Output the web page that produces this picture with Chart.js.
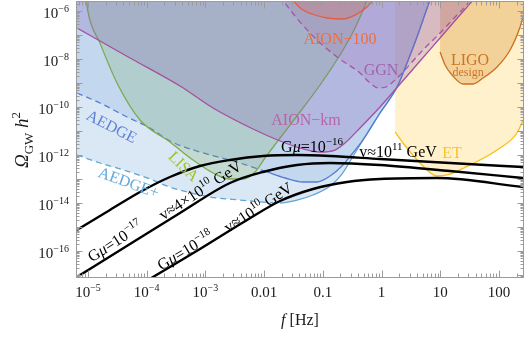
<!DOCTYPE html>
<html><head><meta charset="utf-8">
<script src="https://cdn.jsdelivr.net/npm/chart.js@4"></script>
<style>html,body{margin:0;padding:0;background:#fff}</style>
</head><body>
<canvas id="c" width="526" height="339" style="width:526px;height:339px;display:block"></canvas>
<script>
// ---------------- data (frequency in Hz, Omega_GW h^2) ----------------
const gmu16F = [6.5e-6, 2.37e-5, 7.69e-5, 2.49e-4, 8.09e-4, 2.62e-3, 9.57e-3, 0.0363, 0.133, 0.942, 14.7, 257];
const gmu16Omega = [7.5e-16, 5.11e-15, 2.87e-14, 1.21e-13, 3.48e-13, 6.19e-13, 9.09e-13, 1.0e-12, 9.09e-13, 6.81e-13, 4.64e-13, 3.16e-13];

const gmu17F = [6.5e-6, 5.2e-5, 3.69e-4, 2.62e-3, 9.57e-3, 0.0363, 0.133, 0.942, 14.7, 257];
const gmu17Omega = [8.25e-18, 1.96e-16, 3.83e-15, 6.81e-14, 1.96e-13, 3.83e-13, 4.64e-13, 3.83e-13, 2.15e-13, 1.10e-13];

const gmu18F = [7.69e-5, 1.28e-4, 8.09e-4, 5.12e-3, 0.0187, 0.0681, 0.258, 0.942, 8.81, 257];
const gmu18Omega = [3.83e-18, 8.25e-18, 1.21e-16, 1.96e-15, 1.21e-14, 3.83e-14, 7.5e-14, 1.0e-13, 1.10e-13, 4.64e-14];

const lisaF = [9.2e-6, 1.0e-5, 1.60e-5, 3.12e-5, 7.69e-5, 2.49e-4, 6.15e-4, 1.35e-3, 2.62e-3, 4.37e-3, 7.0e-3, 0.01035, 0.0187, 0.0409, 0.0895, 0.196, 0.354, 0.524, 0.59];
const lisaOmega = [4.64e-6, 9.09e-7, 4.64e-8, 1.0e-9, 2.87e-11, 3.48e-12, 6.19e-13, 1.78e-13, 1.0e-13, 1.0e-13, 1.96e-13, 7.5e-13, 5.11e-12, 6.19e-11, 8.25e-10, 1.47e-8, 1.96e-7, 1.78e-6, 3.83e-6];

const aionKmF = [6.5e-6, 5.2e-5, 3.69e-4, 1.35e-3, 6.47e-3, 0.0187, 0.046, 0.0895, 0.161, 0.239, 0.430, 0.942, 2.07, 4.53, 9.93, 21.7, 36.2, 40.7];
const aionKmOmega = [1.96e-7, 1.10e-8, 7.5e-10, 9.09e-11, 1.21e-11, 3.83e-12, 1.78e-12, 1.33e-12, 1.61e-12, 3.16e-12, 1.33e-11, 1.0e-10, 9.09e-10, 8.25e-9, 7.5e-8, 6.81e-7, 2.87e-6, 4.22e-6];

const aion100F = [0.0227, 0.0299, 0.046, 0.0736, 0.118, 0.221, 0.383, 0.566, 0.716, 0.805];
const aion100Omega = [4.64e-6, 2.87e-6, 1.10e-6, 6.81e-7, 5.11e-7, 4.64e-7, 7.5e-7, 1.47e-6, 2.87e-6, 4.64e-6];

const ggnF = [0.0187, 0.021, 0.0605, 0.175, 0.430, 0.637, 0.871, 1.19, 1.70, 2.32, 5.09, 9.93, 17.9, 29.8, 33.5];
const ggnOmega = [4.64e-6, 2.87e-6, 1.21e-7, 1.21e-8, 2.61e-9, 1.0e-9, 6.19e-10, 6.81e-10, 1.33e-9, 2.87e-9, 2.37e-8, 1.21e-7, 5.62e-7, 2.15e-6, 3.48e-6];

const aedgeF = [6.5e-6, 1.60e-5, 4.62e-5, 1.14e-4, 2.49e-4, 8.09e-4, 3.88e-3, 0.0112, 0.0227, 0.046, 0.0796, 0.133, 0.212, 0.314, 0.484, 0.942, 1.84, 2.72, 4.02, 6.70, 7.25];
const aedgeOmega = [3.83e-10, 1.47e-10, 3.83e-11, 1.33e-11, 3.83e-12, 1.33e-12, 4.64e-13, 1.96e-13, 1.10e-13, 7.5e-14, 7.5e-14, 1.33e-13, 3.48e-13, 1.10e-12, 4.22e-12, 5.62e-11, 6.81e-10, 6.81e-9, 8.25e-8, 2.87e-6, 4.64e-6];

const aedgePlusF = [6.5e-6, 1.60e-5, 4.62e-5, 1.14e-4, 2.49e-4, 1.20e-3, 3.88e-3, 0.0187, 0.0363, 0.0681, 0.133, 0.212, 0.314, 0.484, 0.942, 1.84, 2.72, 4.02, 6.70, 7.25];
const aedgePlusOmega = [1.0e-12, 4.64e-13, 2.15e-13, 1.0e-13, 4.64e-14, 1.78e-14, 1.33e-14, 1.0e-14, 1.33e-14, 2.15e-14, 5.11e-14, 1.61e-13, 7.5e-13, 4.22e-12, 5.62e-11, 6.81e-10, 6.81e-9, 8.25e-8, 2.87e-6, 4.64e-6];

const etF = [1.70, 2.32, 4.53, 8.81, 13.1, 32.2, 92.9, 203, 257, 339];
const etOmega = [9.09e-12, 3.16e-12, 4.64e-13, 1.33e-13, 1.47e-13, 3.83e-13, 1.61e-12, 8.25e-12, 2.87e-11, 1.96e-10];

const ligoF = [9.93, 12.1, 15.9, 24.4, 36.2, 53.6, 92.9, 155, 229, 257, 288];
const ligoOmega = [1.96e-8, 5.62e-9, 2.15e-9, 9.09e-10, 9.09e-10, 1.61e-9, 4.64e-9, 2.37e-8, 2.15e-7, 5.62e-7, 1.78e-6];

// axis ranges and tick labels
const xRange = [6.5e-6, 257];
const yRange = [8.25e-18, 2.37e-6];
const xTickValues = [1e-5, 1e-4, 1e-3, 0.01, 0.1, 1, 10, 100];
const xTickLabels = [['10','−5'], ['10','−4'], ['10','−3'], ['0.01'], ['0.1'], ['1'], ['10'], ['100']];
const yTickValues = [1e-6, 1e-8, 1e-10, 1e-12, 1e-14, 1e-16];
const yTickLabels = [['10','−6'], ['10','−8'], ['10','−10'], ['10','−12'], ['10','−14'], ['10','−16']];

// ---------------- helpers ----------------
const pts = (F, O) => F.map((f, i) => ({x: f, y: O[i]}));
const SERIF = '"Liberation Serif", "DejaVu Serif", serif';
const N = t => ({t}); const I = t => ({t, i: true});
const SUP = t => ({t, k: 'sup'}); const SUB = t => ({t, k: 'sub'});

function fontFor(p, size) {
  const s = (p.k === 'sup' || p.k === 'sub') ? Math.round(size * 0.68) : size;
  return (p.i ? 'italic ' : '') + s + 'px ' + SERIF;
}
function richWidth(ctx, parts, size) {
  let w = 0;
  for (const p of parts) { ctx.font = fontFor(p, size); w += ctx.measureText(p.t).width; }
  return w;
}
function drawRich(ctx, parts, x, base, size) {
  for (const p of parts) {
    ctx.font = fontFor(p, size);
    const dy = p.k === 'sup' ? -size * 0.42 : (p.k === 'sub' ? size * 0.25 : 0);
    ctx.fillText(p.t, x, base + dy);
    x += ctx.measureText(p.t).width;
  }
}

// region labels (anchored in data coordinates)
const labelSpecs = [
  {f: 0.196, o: 7.5e-8, rot: 0, size: 16, color: 'rgb(240,110,60)', parts: [N('AION−100')]},
  {f: 0.98, o: 3.83e-9, rot: 0, size: 16, color: 'rgb(160,100,170)', parts: [N('GGN')]},
  {f: 32.2, o: 1.0e-8, rot: 0, size: 16, color: 'rgb(205,115,35)', parts: [N('LIGO')]},
  {f: 29.8, o: 2.87e-9, rot: 0, size: 12, color: 'rgb(205,115,35)', parts: [N('design')]},
  {f: 0.0518, o: 3.16e-11, rot: 0, size: 16, color: 'rgb(185,100,170)', parts: [N('AION−km')]},
  {f: 15.9, o: 1.33e-12, rot: 0, size: 16, color: 'rgb(250,195,40)', parts: [N('ET')]},
  {f: 0.0655, o: 2.37e-12, rot: 0, size: 16, color: '#000', parts: [N('G'), I('μ'), N('=10'), SUP('−16')]},
  {f: 1.91, o: 1.47e-12, rot: 0, size: 16, color: '#000', parts: [N('v≈10'), SUP('11'), N(' GeV')]},
  {f: 8.1e-4, o: 3.48e-14, rot: -33, size: 16, color: '#000', parts: [N('v≈4×10'), SUP('10'), N(' GeV')]},
  {f: 2.88e-5, o: 2.61e-16, rot: -33, size: 16, color: '#000', parts: [N('G'), I('μ'), N('=10'), SUP('−17')]},
  {f: 4.49e-4, o: 1.10e-16, rot: -31, size: 16, color: '#000', parts: [N('G'), I('μ'), N('=10'), SUP('−18')]},
  {f: 7.87e-3, o: 6.81e-15, rot: -33, size: 16, color: '#000', parts: [N('v≈10'), SUP('10'), N(' GeV')]},
  {f: 2.56e-5, o: 1.61e-11, rot: 27, size: 16, color: 'rgb(95,130,215)', parts: [N('AEDGE')]},
  {f: 4.99e-5, o: 7.5e-14, rot: 20, size: 16, color: 'rgb(100,170,220)', parts: [N('AEDGE+')]},
  {f: 4.31e-4, o: 3.48e-13, rot: 45, size: 16, color: 'rgb(160,195,40)', parts: [N('LISA')]}
];

const decoPlugin = {
  id: 'deco',
  afterDatasetsDraw(chart) {
    const {ctx, scales: {x, y}} = chart;
    ctx.save();
    ctx.textBaseline = 'alphabetic';
    for (const L of labelSpecs) {
      const px = x.getPixelForValue(L.f), py = y.getPixelForValue(L.o);
      ctx.save();
      ctx.translate(px, py);
      ctx.rotate(L.rot * Math.PI / 180);
      ctx.fillStyle = L.color;
      const w = richWidth(ctx, L.parts, L.size);
      drawRich(ctx, L.parts, -w / 2, L.size * 0.35, L.size);
      ctx.restore();
    }
    ctx.restore();
  },
  afterDraw(chart) {
    const {ctx, chartArea: a, scales: {x, y}} = chart;
    ctx.save();
    const Lx = a.left - 0.5, Rx = a.right + 0.5, Ty = a.top - 0.5, By = a.bottom + 0.5;
    ctx.strokeStyle = '#9b9b9b';
    ctx.lineWidth = 1;
    ctx.strokeRect(Lx, Ty, Rx - Lx, By - Ty);
    ctx.beginPath();
    for (let d = -6; d <= 2; d++) {
      for (let m = 1; m <= 9; m++) {
        const v = m * Math.pow(10, d);
        if (v < xRange[0] || v > xRange[1]) continue;
        const px = Math.round(x.getPixelForValue(v)) + 0.5;
        const len = m === 1 ? 7 : 4;
        ctx.moveTo(px, By); ctx.lineTo(px, By - len);
        ctx.moveTo(px, Ty); ctx.lineTo(px, Ty + len);
      }
    }
    for (let d = -18; d <= -5; d++) {
      for (let m = 1; m <= 9; m++) {
        const v = m * Math.pow(10, d);
        if (v < yRange[0] || v > yRange[1]) continue;
        const py = Math.round(y.getPixelForValue(v)) + 0.5;
        const len = m === 1 ? 6 : 3;
        ctx.moveTo(Lx, py); ctx.lineTo(Lx + len, py);
        ctx.moveTo(Rx, py); ctx.lineTo(Rx - len, py);
      }
    }
    ctx.stroke();

    // tick labels
    ctx.fillStyle = '#1a1a1a';
    ctx.textBaseline = 'alphabetic';
    const TS = 15;
    xTickValues.forEach((v, i) => {
      const lab = xTickLabels[i];
      const parts = lab.length > 1 ? [N(lab[0]), SUP(lab[1])] : [N(lab[0])];
      const w = richWidth(ctx, parts, TS);
      const px = x.getPixelForValue(v);
      drawRich(ctx, parts, px - w / 2, 297, TS);
    });
    yTickValues.forEach((v, i) => {
      const lab = yTickLabels[i];
      const parts = [N(lab[0]), SUP(lab[1])];
      const w = richWidth(ctx, parts, TS);
      const py = y.getPixelForValue(v);
      drawRich(ctx, parts, 69 - w, py + 7, TS);
    });

    // axis titles
    const xt = [I('f'), N(' [Hz]')];
    const wx = richWidth(ctx, xt, 16);
    drawRich(ctx, xt, (a.left + a.right) / 2 - wx / 2, 325, 16);

    ctx.save();
    ctx.translate(22, 140);
    ctx.rotate(-Math.PI / 2);
    const yt = [I('Ω'), SUB('GW'), N(' '), I('h'), SUP('2')];
    const wy = richWidth(ctx, yt, 19);
    drawRich(ctx, yt, -wy / 2, 6, 19);
    ctx.restore();
    ctx.restore();
  }
};

function region(label, F, O, line, fill, order, extra) {
  return Object.assign({
    label, data: pts(F, O), borderColor: line, backgroundColor: fill,
    fill: 'end', borderWidth: 1.3, pointRadius: 0, order,
    cubicInterpolationMode: 'monotone', tension: 0.4, clip: 0
  }, extra || {});
}
function stringCurve(label, F, O) {
  return {label, data: pts(F, O), borderColor: '#000', borderWidth: 2.4, fill: false,
    pointRadius: 0, order: 0, cubicInterpolationMode: 'monotone', tension: 0.4, clip: 0};
}
const dashUntil = n => ({segment: {borderDash: c => c.p0DataIndex < n ? [6, 4] : []}});

const datasets = [
  stringCurve('Gμ=1e-16', gmu16F, gmu16Omega),
  stringCurve('Gμ=1e-17', gmu17F, gmu17Omega),
  stringCurve('Gμ=1e-18', gmu18F, gmu18Omega),
  region('ET', etF, etOmega, 'rgb(250,190,20)', 'rgba(255,205,70,0.28)', 10),
  region('LIGO design', ligoF, ligoOmega, 'rgb(205,110,30)', 'rgba(215,140,40,0.30)', 9),
  region('AEDGE+', aedgePlusF, aedgePlusOmega, 'rgb(95,165,215)', 'rgba(140,185,225,0.32)', 8, dashUntil(7)),
  region('AEDGE', aedgeF, aedgeOmega, 'rgb(85,125,210)', 'rgba(100,145,215,0.2)', 7, dashUntil(7)),
  region('LISA', lisaF, lisaOmega, 'rgb(125,170,80)', 'rgba(120,170,80,0.22)', 6),
  region('AION-km', aionKmF, aionKmOmega, 'rgb(165,80,160)', 'rgba(130,90,180,0.25)', 5),
  region('AION-100', aion100F, aion100Omega, 'rgb(235,95,50)', 'rgba(230,100,70,0.25)', 4),
  region('GGN', ggnF, ggnOmega, 'rgb(165,85,165)', 'rgba(170,90,170,0.15)', 3, {segment: {borderDash: () => [6, 4]}})
];

new Chart(document.getElementById('c'), {
  type: 'line',
  data: {datasets},
  options: {
    responsive: false, animation: false, devicePixelRatio: 1, events: [],
    layout: {padding: {left: 0, right: 3, top: 2, bottom: 0}},
    elements: {line: {capBezierPoints: false}},
    plugins: {legend: {display: false}, tooltip: {enabled: false},
      filler: {drawTime: 'beforeDatasetDraw'}},
    scales: {
      x: {type: 'logarithmic', min: xRange[0], max: xRange[1],
        ticks: {display: false}, grid: {display: false}, border: {display: false},
        afterFit: s => { s.height = 62; }},
      y: {type: 'logarithmic', min: yRange[0], max: yRange[1],
        ticks: {display: false}, grid: {display: false}, border: {display: false},
        afterFit: s => { s.width = 77; }}
    }
  },
  plugins: [decoPlugin]
});
</script>
</body></html>
